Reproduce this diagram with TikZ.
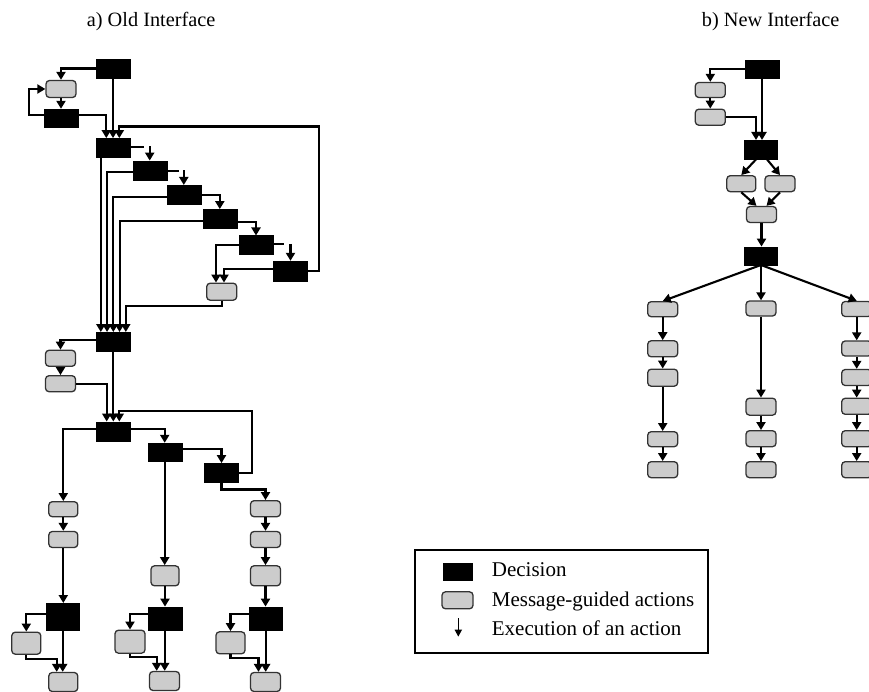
\documentclass[tikz,border=0pt]{standalone}
\usepackage{fontspec}
\setmainfont{Liberation Serif}
\usetikzlibrary{arrows.meta,calc}
\begin{document}
\begin{tikzpicture}[x=1pt,y=-1pt,
 dec/.style={draw=black,fill=black,inner sep=0,minimum width=34pt,minimum height=19pt},
 act/.style={draw=black!80,fill=black!20,rounded corners=3.5pt,line width=1.3pt,inner sep=0,minimum width=30pt,minimum height=16pt},
 flow/.style={line width=2.1pt,-{Triangle[length=8pt,width=9pt]}},
 plain/.style={line width=2.1pt},
 ttl/.style={font=\fontsize{20.3}{24}\selectfont,anchor=base west,inner sep=0},
 lgd/.style={font=\fontsize{21}{25}\selectfont,anchor=base west,inner sep=0}]
\useasboundingbox (0,0) rectangle (869,692);
\begin{scope}
\clip (0,0) rectangle (869,692);
% titles
\node[ttl] (TA) at (86.7,26.7) {a) Old Interface};
\node[ttl] (TB) at (701.7,26.7) {b) New Interface};

% ---------- old interface ----------
\node[dec] (D1) at (113,68.5) {};
\node[act,minimum height=17pt] (G1) at (61,89) {};
\node[dec,minimum height=18pt] (D2) at (61,118) {};
\node[dec] (D3) at (113.3,147.8) {};
\node[dec] (D4) at (149.7,170.3) {};
\node[dec] (D5) at (183.8,194.7) {};
\node[dec] (D6) at (219.8,218.8) {};
\node[dec] (D7) at (256,245.2) {};
\node[dec,minimum height=20pt] (D8) at (290.5,271) {};
\node[act,minimum height=17pt] (G2) at (221.7,291.7) {};
\node[dec] (D9) at (113.3,341.7) {};
\node[act] (G3) at (60.5,358.3) {};
\node[act] (G4) at (60.5,383.7) {};
\node[dec] (D10) at (113.3,431.2) {};
\node[dec,minimum height=18pt] (D11) at (164.7,452) {};
\node[dec] (D12) at (221.5,472.8) {};
\node[act,minimum width=29pt,minimum height=15pt] (G5) at (63.3,509.2) {};
\node[act,minimum width=29pt] (G6) at (63.3,539.5) {};
\node[dec,minimum width=33pt,minimum height=27pt] (D13) at (62.7,616.7) {};
\node[act,minimum width=29pt,minimum height=22pt] (G7) at (26.3,643.2) {};
\node[act,minimum width=29pt,minimum height=19pt] (G8) at (63.3,682) {};
\node[act,minimum width=28pt,minimum height=20pt] (G9) at (165,575.8) {};
\node[dec,minimum height=23pt] (D14) at (164.7,618.3) {};
\node[act,minimum height=23pt] (G10) at (130,641.7) {};
\node[act,minimum height=19pt] (G11) at (164.5,681) {};
\node[act] (G12) at (265.5,508.7) {};
\node[act] (G13) at (265.5,539.5) {};
\node[act,minimum height=20pt] (G14) at (265.5,575.8) {};
\node[dec,minimum width=33pt,minimum height=23pt] (D15) at (265.7,618.3) {};
\node[act,minimum width=29pt,minimum height=22pt] (G15) at (230.5,642.8) {};
\node[act,minimum height=19pt] (G16) at (265.5,682) {};

\draw[flow] (D1.west) -| (G1.north);
\draw[flow] (G1) -- (D2);
\draw[flow] ($(D2.west)+(0,-3)$) -- ++(-14.7,0) |- (G1.west);
\draw[flow] ($(D2.east)+(0,-3)$) -| ($(D3.north)+(-7,0)$);
\draw[flow] (D1.south) -- (D1.south |- D3.north);
\draw[flow] (D8.east) -- ++(11.5,0) |- ($(D3.north)+(6,-11.6)$) -- ($(D3.north)+(6,0)$);
\draw[plain] ($(D3.east)+(0,-1)$) -- ++(13,0);
\draw[flow] ($(D4.north)+(0,-14.5)$) -- (D4.north);
\draw[plain] ($(D4.east)+(0,0.7)$) -- ++(12,0);
\draw[flow] ($(D5.north)+(0,-14.5)$) -- (D5.north);
\draw[flow] (D5.east) -| (D6.north);
\draw[flow] ($(D6.east)+(0,3)$) -| (D7.north);
\draw[plain] ($(D7.east)+(0,-1)$) -- ++(11,0);
\draw[flow] ($(D8.north)+(0,-17)$) -- (D8.north);
\draw[flow] ($(D3.south)+(-12.5,0)$) -- ($(D9.north)+(-12.5,0)$);
\draw[flow] ($(D4.west)+(0,1.4)$) -| ($(D9.north)+(-6.25,0)$);
\draw[flow] ($(D5.west)+(0,2)$) -| (D9.north);
\draw[flow] ($(D6.west)+(0,2.2)$) -| ($(D9.north)+(6.25,0)$);
\draw[flow] (G2.south) |- ($(D9.north)+(12.5,-26.3)$) -- ($(D9.north)+(12.5,0)$);
\draw[flow] (D7.west) -| ($(G2.north)+(-5.7,0)$);
\draw[flow] ($(D8.west)+(0,-2)$) -| ($(G2.north)+(2.3,0)$);

\draw[flow] ($(D9.west)+(0,-1.7)$) -| (G3.north);
\draw[flow] (G3) -- (G4);
\draw[flow] (G4.east) -| ($(D10.north)+(-6.6,0)$);
\draw[flow] (D9.south) -- (D10.north);
\draw[flow] (D12.east) -- ++(13.6,0) |- ($(D10.north)+(6,-10.7)$) -- ($(D10.north)+(6,0)$);
\draw[flow] ($(D10.west)+(0,-2)$) -| (G5.north);
\draw[flow] ($(D10.east)+(0,-2)$) -| (D11.north);
\draw[flow] ($(D11.east)+(0,-3.3)$) -| (D12.north);
\draw[flow] (D12.south) -- ++(0,7) -| (G12.north);
\draw[flow] (D11.south) -- (D11.south |- G9.north);

\draw[flow] (G5) -- (G6);
\draw[flow] (G6.south) -- (G6.south |- D13.north);
\draw[flow] ($(D13.west)+(0,-2.4)$) -| (G7.north);
\draw[flow] (G7.south) -- ++(0,3.7) -| ($(G8.north)+(-6.6,0)$);
\draw[flow] (D13.south) -- (D13.south |- G8.north);

\draw[flow] (G9.south) -- (G9.south |- D14.north);
\draw[flow] ($(D14.west)+(0,-4)$) -| (G10.north);
\draw[flow] (G10.south) -- ++(0,3.4) -| ($(G11.north)+(-7.8,0)$);
\draw[flow] (D14.south) -- (D14.south |- G11.north);

\draw[flow] (G12) -- (G13);
\draw[flow] (G13) -- (G14);
\draw[flow] (G14.south) -- (G14.south |- D15.north);
\draw[flow] ($(D15.west)+(0,-4)$) -| (G15.north);
\draw[flow] (G15.south) -- ++(0,3.5) -| ($(G16.north)+(-7,0)$);
\draw[flow] (D15.south) -- (D15.south |- G16.north);

% ---------- new interface ----------
\node[dec,minimum height=18pt] (R1) at (762,69.2) {};
\node[act,minimum height=15pt] (RG1) at (710.3,90) {};
\node[act] (RG2) at (710.3,117.2) {};
\node[dec,minimum width=33pt] (R2) at (761,149.7) {};
\node[act,minimum width=29pt] (RG3) at (741.3,183.7) {};
\node[act] (RG4) at (780,183.7) {};
\node[act] (RG5) at (761.5,214.5) {};
\node[dec,minimum width=33pt,minimum height=18pt] (R3) at (761,255.8) {};

\node[act,minimum height=15pt] (L1) at (662.7,309.2) {};
\node[act] (L2) at (662.7,348.8) {};
\node[act,minimum height=17pt] (L3) at (662.7,377.7) {};
\node[act,minimum height=15pt] (L4) at (662.7,439.2) {};
\node[act] (L5) at (662.7,469.7) {};

\node[act,minimum height=15pt] (M1) at (761,308.5) {};
\node[act,minimum height=17pt] (M2) at (761,406.7) {};
\node[act] (M3) at (761,438.7) {};
\node[act] (M4) at (761,469.7) {};

\node[act,minimum height=15pt] (N1) at (856.7,309) {};
\node[act,minimum height=15pt] (N2) at (856.7,348.5) {};
\node[act] (N3) at (856.7,377.5) {};
\node[act] (N4) at (856.7,406.3) {};
\node[act] (N5) at (856.7,438.7) {};
\node[act] (N6) at (856.7,469.7) {};

\draw[flow] (R1.west) -| (RG1.north);
\draw[flow] (RG1) -- (RG2);
\draw[flow] (RG2.east) -| ($(R2.north)+(-5,0)$);
\draw[flow] (R1.south) -- (R1.south |- R2.north);
\draw[flow] ($(R2.south)+(-5,0)$) -- (RG3.north);
\draw[flow] ($(R2.south)+(6,0)$) -- (RG4.north);
\draw[flow] (RG3.south) -- ($(RG5.north)+(-5,0)$);
\draw[flow] (RG4.south) -- ($(RG5.north)+(5,0)$);
\draw[flow] (RG5.south) -- (RG5.south |- R3.north);
\draw[flow] (R3.south) -- (L1.north);
\draw[flow] (R3.south) -- (M1.north);
\draw[flow] (R3.south) -- (N1.north);
\draw[flow] (L1) -- (L2);
\draw[flow] (L2) -- (L3);
\draw[flow] (L3) -- (L4);
\draw[flow] (L4) -- (L5);
\draw[flow] (M1) -- (M2);
\draw[flow] (M2) -- (M3);
\draw[flow] (M3) -- (M4);
\draw[flow] (N1) -- (N2);
\draw[flow] (N2) -- (N3);
\draw[flow] (N3) -- (N4);
\draw[flow] (N4) -- (N5);
\draw[flow] (N5) -- (N6);

% ---------- legend ----------
\node[draw=black,line width=2pt,inner sep=0,minimum width=293pt,minimum height=103pt] (LG) at (561.5,601.5) {};
\node[dec,minimum width=29pt,minimum height=17pt] (LD) at (458,572) {};
\node[act,minimum width=31pt,minimum height=17pt] (LA) at (457.5,600.3) {};
\coordinate (LE1) at (458.3,618.3);
\coordinate (LE2) at (458.3,636.7);
\draw[line width=1.6pt,-{Triangle[length=7pt,width=7pt]}] (LE1) -- (LE2);
\node[lgd] (T1) at (491.7,576.7) {Decision};
\node[lgd] (T2) at (491.7,606.7) {Message-guided actions};
\node[lgd] (T3) at (491.7,635.7) {Execution of an action};
\end{scope}
\end{tikzpicture}
\end{document}
